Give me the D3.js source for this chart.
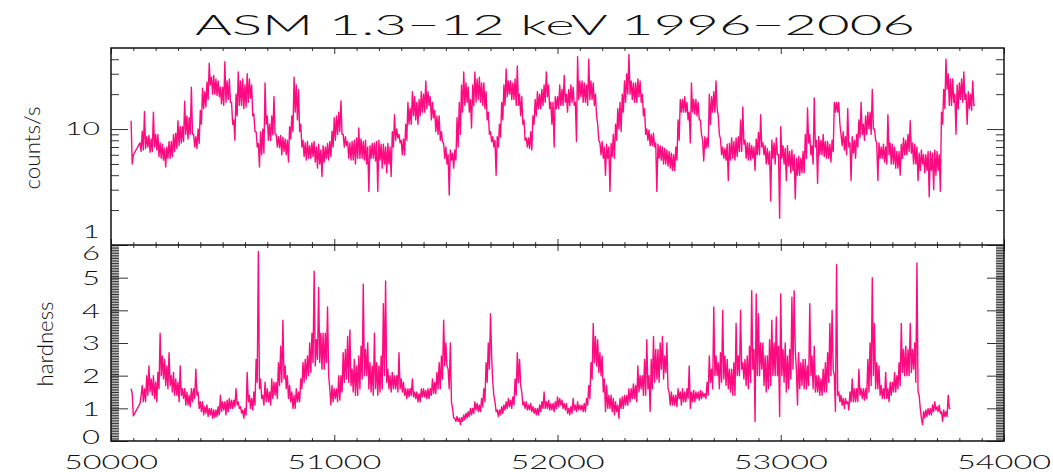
<!DOCTYPE html>
<html>
<head>
<meta charset="utf-8">
<script src="https://cdn.jsdelivr.net/npm/d3@7"></script>
<style>
  body { margin: 0; background: #fff; }
  svg { display: block; }
  text { font-family: Lato, "DejaVu Sans", sans-serif; font-weight: 300; fill: #111; }
</style>
</head>
<body>
<svg id="chart" width="1053" height="472"></svg>
<script>
// RXTE/ASM light curve, 5-day bins starting at MJD 50090 (null = no data)
const mjdStart = 50090;
const binDays = 5;

// 1.3-12 keV count rate (counts/s), one row per 100 days
const countRate = [
  11.8, 5.0, 6.0, null, null, null, null, null, 7.6, 6.4, 9.6, 6.6, 14.2, 6.8, 8.6, 7.0, 8.8, 6.3, 8.2, 6.4,
  14.0, 7.0, 9.0, 6.6, 9.0, 5.8, 7.6, 5.6, 7.4, 5.4, 6.8, 4.7, 7.0, 5.6, 7.8, 5.6, 7.8, 5.8, 9.0, 6.4,
  9.2, 6.8, 11.8, 7.2, 10.5, 7.6, 10.5, 7.8, 17.4, 9.0, 13, 8.2, 12.5, 9.0, 23, 9.0, 9.0, 7.0, 8.6, 6.8,
  10, 7.5, 14.5, 11, 22.5, 15, 21, 15.5, 25.5, 18, 37, 24, 28, 20, 29, 20, 27, 19.5, 26, 19,
  23, 16.5, 23, 16, 38, 17, 26, 18, 27, 17, 17, 11, 12, 8.0, 20, 13, 31, 16, 26, 16,
  27, 15, 24, 15.5, 30, 17, 27, 18.5, 24, 13, 13.5, 9.5, 9.5, 7.0, 7.5, 4.7, 9.5, 6.0, 10, 6.2,
  25, 11, 13, 8.0, 11, 8.0, 13, 8.9, 19, 9.0, 8.9, 7.0, 8.6, 6.9, 8.8, 6.0, 8.5, 6.4, 8.2, 6.0,
  8.0, 5.2, 10.5, 8.2, 13, 9.5, 28, 14, 24, 12, 22, 9.5, 11, 7.0, 8.0, 5.8, 7.6, 5.4, 7.8, 5.6,
  7.2, 5.6, 7.6, 5.8, 7.8, 5.2, 7.0, 4.6, 7.4, 5.0, 6.6, 3.9, 7.2, 5.2, 7.0, 5.6, 7.5, 5.4, 7.8, 5.8,
  9.6, 7.0, 12.5, 8.0, 13, 9.0, 14, 9.5, 17.5, 9.0, 9.0, 7.0, 8.6, 7.2, 7.8, 5.6, 7.6, 5.4, 7.8, 5.4,
  8.0, 5.0, 8.4, 5.6, 10.2, 5.6, 8.2, 5.6, 7.8, 5.4, 8.0, 5.0, 7.0, 2.9, 7.2, 5.6, 7.5, 5.6, 7.6, 5.3,
  7.8, 2.9, 8.0, 5.4, 7.4, 4.6, 7.4, 5.0, 7.0, 4.2, 7.5, 5.0, 7.0, 3.9, 9.5, 7.0, 13.3, 8.0, 10, 8.4,
  9.0, 7.6, 8.0, 6.0, 8.2, 6.0, 11, 8.0, 17, 11, 15, 11, 21, 13, 19, 12, 17, 11, 18, 13,
  21, 14, 20, 14, 26, 15, 21, 16, 19, 12, 17, 12.5, 14.5, 9.5, 13, 9.0, 13, 8.0, 9.5, 7.8,
  7.5, 5.6, 7.0, 5.0, 6.0, 2.7, 6.6, 5.4, 6.2, 4.6, 6.6, 5.4, 12.5, 7.0, 17, 9.0, 24, 14, 31, 16,
  25, 17, 23, 14, 18, 10.2, 24, 16, 31, 17, 27, 18, 28, 17, 25, 16, 25, 15, 21, 12,
  14, 9.0, 9.5, 7.8, 8.6, 7.0, 8.0, 4.0, 8.6, 7.0, 11, 8.5, 17, 12, 24, 16, 33, 19, 26, 20,
  26, 18, 25, 18, 27, 16, 35, 16, 20, 13, 19, 11, 12, 8.0, 8.4, 7.0, 8.4, 6.8, 9.5, 6.6,
  13, 11, 18, 13, 21, 15, 20, 15, 22, 16, 24, 17, 31, 19, 24, 15, 17, 11, 17, 7.0,
  19, 15, 19, 15, 24, 16, 22, 16, 29, 17, 20, 14, 22, 16, 24, 17, 23, 16, 17, 7.8,
  42, 18, 26, 19, 26, 17, 25, 17, 24, 16, 40, 18, 26, 18, 25, 16, 20, 13, 11, 8.0,
  7.6, 6.0, 7.8, 5.6, 7.0, 4.0, 7.4, 5.6, 7.0, 2.9, 7.5, 5.8, 9.0, 5.6, 11, 8.0, 15, 10, 17, 9.5,
  20, 14, 26, 17, 30, 20, 44, 20, 26, 18, 25, 17, 25, 17, 27, 19, 26, 17, 20, 13,
  15, 9.0, 10, 8.0, 9.8, 7.2, 9.0, 7.2, 9.2, 7.0, 7.6, 2.9, 7.4, 5.6, 7.2, 5.4, 7.0, 5.0, 6.8, 5.0,
  6.6, 4.8, 6.4, 4.6, 6.2, 4.4, 6.0, 4.4, 7.0, 5.4, 12, 8.0, 18, 14, 18, 14, 19, 14, 17, 12,
  14, 7.6, 25, 14, 18, 13.5, 18, 13, 17, 12, 12, 9.0, 8.0, 5.3, 8.6, 6.8, 8.4, 7.0, 20, 11,
  19, 14, 21, 14, 26, 15, 13, 9.0, 8.2, 6.0, 7.0, 5.6, 6.8, 5.4, 7.4, 3.6, 7.5, 5.4, 8.4, 5.6,
  7.8, 5.4, 8.4, 5.8, 8.6, 6.4, 12, 6.4, 15.5, 7.4, 8.0, 5.6, 7.6, 5.4, 7.6, 5.4, 7.2, 5.6, 7.0, 4.4,
  8.2, 6.0, 9.4, 6.0, 13.3, 7.0, 7.6, 6.0, 7.2, 5.0, 6.8, 5.0, 6.4, 2.4, 8.0, 5.6, 7.6, 5.0, 8.4, 6.0,
  6.0, 1.7, 10.5, 5.6, 7.2, 5.0, 6.8, 3.6, 7.2, 4.8, 6.4, 4.2, 6.6, 4.4, 6.0, 2.5, 5.6, 4.0, 5.8, 4.0,
  5.6, 4.2, 6.4, 4.2, 9.0, 5.6, 15.2, 7.6, 9.0, 6.0, 7.2, 5.0, 18.5, 7.0, 8.0, 3.4, 8.6, 6.0, 8.0, 6.0,
  9.0, 5.8, 7.8, 5.6, 7.8, 5.6, 7.4, 5.2, 8.0, 6.4, 17, 14, 17, 14, 17, 11, 9.0, 7.2, 9.5, 6.6,
  8.6, 6.0, 15, 7.0, 7.6, 3.6, 8.6, 6.2, 8.0, 5.6, 9.0, 7.0, 12, 8.4, 17, 9.0, 11, 8.0, 13, 9.0,
  14, 10, 14, 9.0, 22, 10, 10, 8.0, 7.6, 3.6, 7.6, 5.6, 7.0, 5.6, 7.4, 5.2, 7.0, 5.0, 13.3, 6.0,
  7.6, 5.0, 7.4, 5.0, 7.0, 4.6, 6.4, 4.6, 6.4, 4.0, 7.4, 5.6, 8.4, 6.0, 8.0, 6.0, 9.0, 6.4, 11.8, 6.2,
  7.6, 5.0, 7.4, 5.0, 7.0, 3.6, 6.2, 4.4, 6.6, 5.0, 6.0, 4.2, 6.0, 4.4, 6.4, 2.6, 6.4, 4.4, 6.2, 3.0,
  6.6, 4.0, 6.4, 4.4, 6.0, 2.9, 14, 11, 22, 15, 40, 22, 30, 16, 27, 16, 27, 17, 20, 9.0,
  24, 15, 25, 18, 27, 17, 31, 18, 20, 11, 21, 15, 20, 14.5, 26, 16, 16
];

// hardness ratio, same bins
const hardness = [
  1.6, 1.45, 0.77, null, null, null, null, null, 1.15, 1.4, 1.7, 1.2, 1.6, 1.2, 2.0, 1.4, 2.3, 1.5, 1.9, 1.4,
  2.0, 1.3, 1.8, 1.2, 2.1, 1.6, 3.3, 2.0, 2.6, 1.9, 2.5, 1.7, 2.3, 1.6, 2.7, 1.7, 2.0, 1.5, 2.1, 1.4,
  1.9, 1.4, 1.8, 1.2, 2.3, 1.4, 1.6, 1.3, 1.6, 1.1, 1.5, 1.1, 1.4, 1.05, 1.6, 1.2, 1.6, 1.3, 2.2, 1.4,
  1.5, 1.0, 1.2, 0.9, 1.2, 0.8, 1.05, 0.85, 1.1, 0.75, 1.0, 0.8, 1.0, 0.7, 0.95, 0.72, 0.95, 0.75, 1.05, 0.8,
  1.4, 0.9, 1.2, 0.95, 1.2, 0.8, 1.25, 0.9, 1.3, 1.0, 1.25, 1.0, 1.25, 1.05, 1.6, 1.1, 1.2, 1.0, 1.05, 0.85,
  0.95, 0.7, 1.0, 0.8, 2.1, 1.2, 1.4, 1.0, 1.3, 0.95, 1.5, 1.1, 2.5, 1.8, 5.8, 1.6, 1.9, 1.3, 1.4, 1.1,
  1.8, 1.2, 1.6, 1.2, 1.5, 1.1, 1.9, 1.3, 1.8, 1.4, 1.8, 1.3, 2.4, 1.7, 2.9, 1.8, 3.7, 1.9, 2.3, 1.6,
  2.0, 1.3, 1.7, 1.2, 1.5, 1.0, 1.4, 1.0, 1.6, 1.2, 1.5, 1.2, 1.9, 1.6, 2.4, 1.8, 2.5, 1.9, 2.6, 2.0,
  3.0, 2.1, 3.3, 2.4, 5.2, 2.3, 3.1, 2.5, 4.7, 2.4, 3.3, 2.2, 3.3, 2.2, 3.3, 2.4, 4.1, 2.0, 1.6, 1.1,
  1.7, 1.2, 1.6, 1.3, 1.6, 1.2, 2.0, 1.25, 2.0, 1.5, 2.7, 1.8, 2.8, 1.9, 3.2, 1.8, 3.4, 1.7, 2.2, 1.5,
  2.5, 1.4, 2.3, 1.4, 2.6, 1.6, 2.9, 1.9, 4.8, 2.0, 2.8, 2.0, 3.0, 1.6, 2.4, 1.5, 2.3, 1.4, 3.3, 1.6,
  2.4, 1.4, 2.3, 1.5, 2.6, 1.6, 4.2, 2.0, 4.9, 1.8, 2.2, 1.6, 2.0, 1.5, 2.1, 1.6, 2.0, 1.6, 2.0, 1.5,
  2.7, 1.6, 1.9, 1.5, 1.8, 1.4, 1.6, 1.3, 1.6, 1.35, 1.6, 1.4, 1.9, 1.35, 1.5, 1.3, 1.5, 1.2, 1.45, 1.2,
  1.6, 1.35, 1.6, 1.35, 1.55, 1.3, 1.6, 1.3, 1.6, 1.4, 1.9, 1.45, 1.8, 1.45, 2.1, 1.6, 2.4, 1.6, 2.6, 1.9,
  3.7, 2.3, 3.0, 2.3, 2.2, 1.6, 3.0, 1.2, 1.0, 0.7, 0.7, 0.6, 0.75, 0.6, 0.7, 0.5, 0.72, 0.6, 0.8, 0.65,
  0.85, 0.7, 0.9, 0.75, 1.0, 0.8, 1.0, 0.85, 1.2, 0.95, 1.15, 0.9, 1.1, 0.9, 1.3, 1.05, 1.6, 1.2, 2.4, 1.8,
  3.0, 2.2, 3.9, 2.6, 1.8, 1.4, 1.2, 0.9, 0.95, 0.75, 0.95, 0.8, 1.05, 0.85, 1.1, 0.95, 1.2, 1.0, 1.3, 1.05,
  1.25, 1.0, 1.35, 1.1, 1.9, 1.4, 2.7, 1.8, 2.5, 1.7, 1.5, 1.1, 1.2, 1.0, 1.2, 0.95, 1.1, 0.95, 1.15, 0.9,
  1.05, 0.85, 1.0, 0.8, 1.0, 0.8, 1.1, 0.9, 1.2, 1.0, 1.5, 1.0, 1.2, 1.0, 1.25, 0.95, 1.15, 0.95, 1.15, 0.9,
  1.2, 1.0, 1.35, 1.05, 1.3, 1.1, 1.25, 1.0, 1.15, 0.95, 1.15, 0.85, 1.0, 0.8, 1.05, 0.85, 1.3, 0.95, 1.1, 0.9,
  1.2, 0.95, 1.1, 0.95, 1.1, 0.9, 1.15, 0.9, 1.3, 1.1, 1.7, 1.3, 2.4, 1.9, 3.6, 2.4, 3.2, 2.3, 3.1, 2.1,
  2.7, 2.0, 2.6, 1.5, 1.9, 0.9, 1.7, 1.0, 1.4, 1.0, 1.4, 0.9, 1.3, 0.8, 1.2, 0.9, 1.1, 0.7, 1.3, 1.0,
  1.35, 1.0, 1.4, 1.1, 1.4, 1.1, 1.6, 1.2, 1.6, 1.3, 1.75, 1.3, 1.7, 1.2, 2.3, 1.5, 2.0, 1.6, 2.0, 1.4,
  2.5, 1.4, 3.1, 1.6, 2.0, 0.9, 2.5, 1.6, 3.2, 1.8, 2.8, 1.9, 2.8, 1.8, 3.0, 2.2, 3.2, 1.9, 2.6, 2.1,
  3.0, 1.6, 1.5, 1.1, 1.5, 1.1, 1.4, 1.1, 1.4, 1.05, 1.6, 1.3, 1.5, 1.1, 1.6, 1.2, 1.5, 1.2, 1.6, 1.3,
  2.3, 1.0, 1.5, 1.2, 1.55, 1.2, 1.5, 1.3, 1.5, 1.25, 1.55, 1.3, 1.5, 1.35, 1.45, 1.3, 1.8, 1.4, 2.6, 1.8,
  2.2, 1.6, 4.1, 2.0, 2.6, 2.0, 2.4, 1.6, 2.7, 1.8, 4.0, 1.9, 2.6, 1.7, 2.5, 1.6, 2.2, 1.5, 2.2, 1.4,
  2.4, 1.4, 3.6, 2.0, 2.6, 2.0, 4.0, 2.2, 2.4, 1.9, 2.5, 1.7, 2.6, 1.6, 2.9, 1.8, 4.6, 2.2, 2.8, 0.6,
  4.5, 2.0, 3.9, 2.0, 3.0, 2.2, 3.0, 1.7, 2.6, 1.5, 2.6, 1.6, 3.1, 1.7, 3.7, 2.0, 3.0, 2.0, 3.8, 2.0,
  2.9, 0.75, 4.5, 2.0, 2.8, 1.8, 3.0, 1.5, 2.6, 1.6, 2.8, 1.9, 4.4, 2.2, 4.6, 2.8, 2.2, 1.1, 2.7, 1.6,
  2.4, 1.7, 2.5, 1.6, 2.5, 1.6, 2.3, 1.7, 4.2, 2.0, 2.6, 1.6, 2.9, 1.5, 2.0, 1.5, 2.0, 1.4, 1.9, 1.4,
  2.2, 1.5, 2.4, 1.5, 2.7, 1.8, 3.6, 2.0, 4.0, 2.2, 2.0, 0.9, 5.4, 1.4, 1.5, 1.2, 1.4, 1.1, 1.3, 1.0,
  1.3, 1.15, 1.2, 0.95, 1.5, 1.2, 1.9, 1.2, 1.6, 1.2, 1.6, 1.2, 2.2, 1.4, 1.6, 1.3, 1.6, 1.25, 1.6, 1.3,
  2.5, 1.5, 3.0, 1.7, 5.0, 2.0, 3.6, 1.6, 2.4, 1.6, 2.3, 1.4, 1.7, 1.3, 1.6, 1.3, 2.1, 1.3, 1.6, 1.2,
  1.8, 1.4, 1.8, 1.5, 2.1, 1.5, 2.0, 1.6, 2.4, 1.7, 3.6, 2.1, 2.8, 2.0, 2.9, 2.0, 2.8, 2.0, 3.6, 2.1,
  2.8, 2.2, 3.0, 1.8, 5.45, 1.5, 1.4, 1.0, 0.7, 0.5, 0.9, 0.7, 0.95, 0.75, 1.0, 0.8, 1.0, 0.8, 1.1, 0.9,
  1.2, 0.95, 1.05, 0.9, 1.1, 0.85, 0.9, 0.6, 0.95, 0.75, 0.9, 0.75, 1.4, 1.0, 1.0
];

const xMajorTicks = [50000, 51000, 52000, 53000, 54000];
const rateMajorTicks = [1, 10];
const rateMinorTicks = [2, 3, 4, 5, 6, 7, 8, 9, 20, 30, 40];
const hardMajorTicks = [0, 1, 2, 3, 4, 5, 6];
const titleText = "ASM  1.3\u221212  keV  1996\u22122006";

const svg = d3.select("#chart");
const plotLeft = 111, plotRight = 1004, plotTop = 48, plotMid = 245, plotBottom = 441;
const lineColor = "#ff0a80";

const x = d3.scaleLinear().domain([50000, 54000]).range([plotLeft, plotRight]);
const yRate = d3.scaleLog().domain([1, 50]).range([plotMid, plotTop]);
const yHard = d3.scaleLinear().domain([0, 6]).range([plotBottom, plotMid]);

const toSeries = vals => vals
  .map((v, i) => ({ t: mjdStart + i * binDays, v }))
  .filter(d => d.v != null);

// clip regions for the two panels
const defs = svg.append("defs");
defs.append("clipPath").attr("id", "clipTop")
  .append("rect").attr("x", plotLeft).attr("y", plotTop)
  .attr("width", plotRight - plotLeft).attr("height", plotMid - plotTop);
defs.append("clipPath").attr("id", "clipBot")
  .append("rect").attr("x", plotLeft).attr("y", plotMid)
  .attr("width", plotRight - plotLeft).attr("height", plotBottom - plotMid);

// light curves
svg.append("path")
  .datum(toSeries(countRate))
  .attr("clip-path", "url(#clipTop)")
  .attr("fill", "none").attr("stroke", lineColor).attr("stroke-width", 1.4)
  .attr("stroke-linejoin", "round")
  .attr("d", d3.line().x(d => x(d.t)).y(d => yRate(d.v)));

svg.append("path")
  .datum(toSeries(hardness))
  .attr("clip-path", "url(#clipBot)")
  .attr("fill", "none").attr("stroke", lineColor).attr("stroke-width", 1.4)
  .attr("stroke-linejoin", "round")
  .attr("d", d3.line().x(d => x(d.t)).y(d => yHard(d.v)));

// tick marks drawn with d3 axes (inward ticks, no labels)
const tickColor = "#333";
function ticks(axis, tx, ty) {
  const g = svg.append("g").attr("transform", `translate(${tx},${ty})`).call(axis);
  g.select(".domain").remove();
  g.selectAll(".tick line").attr("stroke", tickColor).attr("stroke-width", 1);
  g.selectAll(".tick text").remove();
  return g;
}
const xMinor = d3.range(50000, 54001, 100).filter(v => v % 1000 !== 0);
[[plotTop, 1], [plotMid, -1], [plotMid, 1], [plotBottom, -1]].forEach(([yy, dir]) => {
  ticks(d3.axisBottom(x).tickValues(xMajorTicks).tickSize(6 * dir), 0, yy);
  ticks(d3.axisBottom(x).tickValues(xMinor).tickSize(3 * dir), 0, yy);
});

const hardMinor = d3.range(0, 121).map(i => i * 0.05);
[[plotLeft, 1], [plotRight, -1]].forEach(([xx, dir]) => {
  ticks(d3.axisRight(yRate).tickValues(rateMajorTicks).tickSize(17 * dir), xx, 0);
  ticks(d3.axisRight(yRate).tickValues(rateMinorTicks).tickSize(8 * dir), xx, 0);
  ticks(d3.axisRight(yHard).tickValues(hardMajorTicks).tickSize(17 * dir), xx, 0);
  ticks(d3.axisRight(yHard).tickValues(hardMinor).tickSize(8 * dir), xx, 0);
});

// panel frames
const frame = svg.append("g").attr("fill", "none").attr("stroke", "#111").attr("stroke-width", 1.5);
frame.append("rect").attr("x", plotLeft).attr("y", plotTop)
  .attr("width", plotRight - plotLeft).attr("height", plotBottom - plotTop);
frame.append("line").attr("x1", plotLeft).attr("x2", plotRight).attr("y1", plotMid).attr("y2", plotMid);

// tick labels
svg.append("g").selectAll("text").data(xMajorTicks).join("text")
  .attr("x", d => x(d)).attr("y", 469)
  .attr("text-anchor", "middle").attr("font-size", 20)
  .attr("textLength", 94).attr("lengthAdjust", "spacingAndGlyphs")
  .text(d => d);

svg.append("g").selectAll("text").data(rateMajorTicks).join("text")
  .attr("x", 100).attr("y", d => Math.min(yRate(d), plotMid - 13))
  .attr("dy", "0.36em")
  .attr("text-anchor", "end").attr("font-size", 17)
  .attr("textLength", d => String(d).length * 17.5).attr("lengthAdjust", "spacingAndGlyphs")
  .text(d => d);

svg.append("g").selectAll("text").data(hardMajorTicks).join("text")
  .attr("x", 100).attr("y", d => Math.max(Math.min(yHard(d), plotBottom - 4), plotMid + 8))
  .attr("dy", "0.36em")
  .attr("text-anchor", "end").attr("font-size", 20)
  .attr("textLength", 18).attr("lengthAdjust", "spacingAndGlyphs")
  .text(d => d);

// axis titles
svg.append("text")
  .attr("transform", "translate(40,148) rotate(-90)")
  .attr("text-anchor", "middle").attr("font-size", 22)
  .attr("textLength", 83).attr("lengthAdjust", "spacingAndGlyphs")
  .text("counts/s");
svg.append("text")
  .attr("transform", "translate(53,344) rotate(-90)")
  .attr("text-anchor", "middle").attr("font-size", 22)
  .attr("textLength", 85).attr("lengthAdjust", "spacingAndGlyphs")
  .text("hardness");

// title
svg.append("text")
  .attr("x", 555).attr("y", 35)
  .attr("text-anchor", "middle").attr("font-size", 28)
  .attr("textLength", 720).attr("lengthAdjust", "spacingAndGlyphs")
  .text(titleText);
</script>
</body>
</html>
